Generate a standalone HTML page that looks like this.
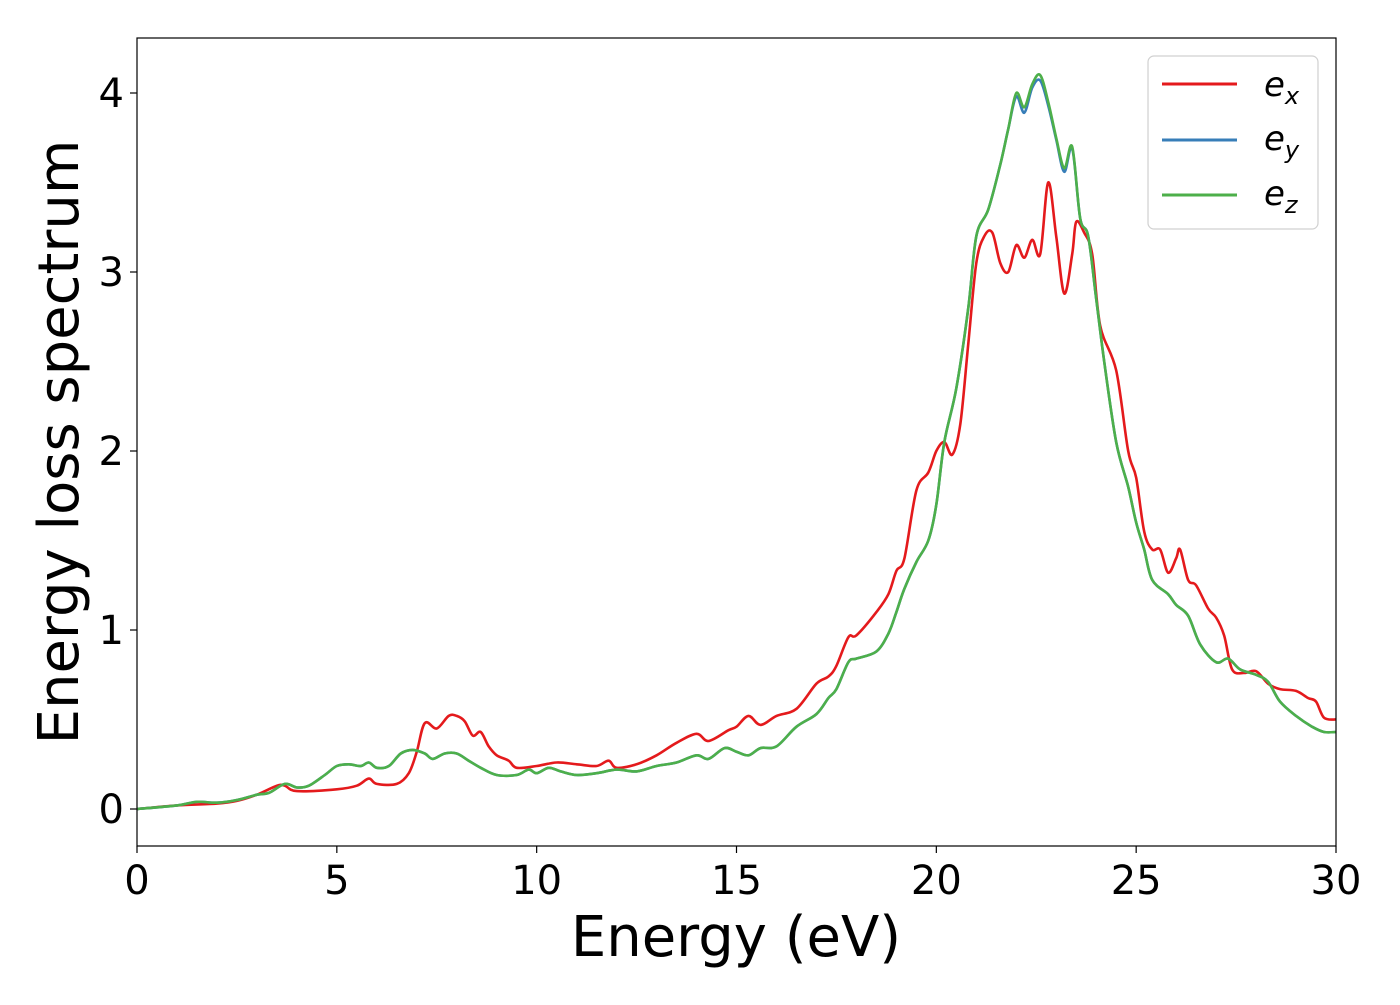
<!DOCTYPE html>
<html><head><meta charset="utf-8"><style>
body{margin:0;background:#fff;}
svg text{font-family:"DejaVu Sans","Liberation Sans",sans-serif;}
</style></head><body>
<svg id="chart" width="1400" height="1000" viewBox="0 0 1400 1000" xmlns="http://www.w3.org/2000/svg">
<rect x="0" y="0" width="1400" height="1000" fill="#fff"/>
<g id="plot"></g>
<rect x="137" y="38" width="1199" height="808" fill="none" stroke="#000" stroke-width="1.2"/>
<g id="ticks"></g>
<text x="736" y="956" font-size="56" text-anchor="middle">Energy (eV)</text>
<text transform="translate(78,442) rotate(-90)" font-size="56" text-anchor="middle">Energy loss spectrum</text>
<g>
<rect x="1148" y="56" width="170" height="173" rx="6" fill="#fff" stroke="#ccc" stroke-width="1.2" opacity="0.9"/>
<line x1="1162" y1="84" x2="1237" y2="84" stroke="#e41a1c" stroke-width="3"/>
<text x="1264" y="96" font-size="34" font-style="italic">e<tspan font-size="24" dy="8">x</tspan></text>
<line x1="1162" y1="140" x2="1237" y2="140" stroke="#377eb8" stroke-width="3"/>
<text x="1264" y="150" font-size="34" font-style="italic">e<tspan font-size="24" dy="8">y</tspan></text>
<line x1="1162" y1="195" x2="1237" y2="195" stroke="#4daf4a" stroke-width="3"/>
<text x="1264" y="205" font-size="34" font-style="italic">e<tspan font-size="24" dy="8">z</tspan></text>
</g>
</svg>
<script>
const xTicks=[0,5,10,15,20,25,30];
const yTicks=[0,1,2,3,4];
const exX=[0,1,2,2.5,3,3.5,3.7,4,5,5.5,5.8,6,6.5,6.8,7,7.2,7.5,7.8,8,8.2,8.4,8.6,8.8,9,9.3,9.5,10,10.5,11,11.5,11.8,12,12.5,13,13.5,14,14.3,14.8,15,15.3,15.6,16,16.5,17,17.3,17.5,17.8,18,18.5,18.8,19,19.2,19.5,19.8,20,20.2,20.4,20.6,20.8,21,21.2,21.4,21.6,21.8,22,22.2,22.4,22.6,22.8,23,23.2,23.4,23.5,23.7,23.9,24.1,24.5,24.8,25,25.2,25.4,25.6,25.8,26,26.1,26.3,26.5,26.8,27,27.2,27.4,27.7,28,28.3,28.6,29,29.3,29.5,29.7,30];
const exY=[0,0.02,0.03,0.045,0.08,0.13,0.13,0.1,0.11,0.13,0.17,0.14,0.14,0.2,0.32,0.48,0.45,0.52,0.52,0.49,0.41,0.43,0.35,0.3,0.27,0.23,0.24,0.26,0.25,0.24,0.27,0.23,0.25,0.3,0.37,0.42,0.38,0.44,0.46,0.52,0.47,0.52,0.56,0.7,0.74,0.8,0.96,0.97,1.1,1.2,1.33,1.4,1.78,1.88,2.0,2.05,1.98,2.15,2.6,3.05,3.2,3.22,3.05,3.0,3.15,3.08,3.18,3.1,3.5,3.2,2.88,3.1,3.28,3.22,3.1,2.7,2.45,2.0,1.85,1.55,1.45,1.45,1.32,1.4,1.45,1.28,1.25,1.12,1.07,0.97,0.78,0.76,0.77,0.7,0.67,0.66,0.62,0.6,0.51,0.5];
const ezX=[0,1,1.5,2,2.5,3,3.3,3.7,4,4.3,4.7,5,5.3,5.6,5.8,6,6.3,6.6,6.9,7.2,7.4,7.7,8,8.3,8.6,9,9.5,9.8,10,10.3,10.6,11,11.5,12,12.5,13,13.5,14,14.3,14.7,15,15.3,15.6,16,16.5,17,17.3,17.5,17.8,18,18.5,18.8,19,19.2,19.5,19.8,20,20.2,20.5,20.8,21,21.3,21.6,21.8,22,22.2,22.4,22.6,22.8,23,23.2,23.4,23.6,23.8,24,24.2,24.5,24.8,25,25.2,25.4,25.8,26,26.3,26.6,27,27.3,27.6,28,28.3,28.6,29,29.4,29.7,30];
const ezY=[0,0.02,0.04,0.035,0.05,0.08,0.09,0.14,0.12,0.13,0.19,0.24,0.25,0.24,0.26,0.23,0.24,0.31,0.33,0.31,0.28,0.31,0.31,0.27,0.23,0.19,0.19,0.22,0.2,0.23,0.21,0.19,0.2,0.22,0.21,0.24,0.26,0.3,0.28,0.34,0.32,0.3,0.34,0.35,0.46,0.53,0.62,0.67,0.82,0.84,0.88,0.98,1.1,1.23,1.38,1.5,1.7,2.05,2.35,2.8,3.2,3.35,3.6,3.8,4.0,3.92,4.05,4.1,3.95,3.75,3.58,3.7,3.3,3.2,2.85,2.5,2.05,1.8,1.6,1.45,1.28,1.2,1.14,1.08,0.92,0.82,0.84,0.78,0.75,0.71,0.6,0.52,0.46,0.43,0.43];
const eyX=ezX;
const eyY=[0,0.02,0.04,0.035,0.05,0.08,0.09,0.14,0.12,0.13,0.19,0.24,0.25,0.24,0.26,0.23,0.24,0.31,0.33,0.31,0.28,0.31,0.31,0.27,0.23,0.19,0.19,0.22,0.2,0.23,0.21,0.19,0.2,0.22,0.21,0.24,0.26,0.3,0.28,0.34,0.32,0.3,0.34,0.35,0.46,0.53,0.62,0.67,0.82,0.84,0.88,0.98,1.1,1.23,1.38,1.5,1.7,2.05,2.35,2.8,3.2,3.35,3.6,3.8,3.98,3.89,4.03,4.07,3.93,3.74,3.56,3.69,3.3,3.2,2.85,2.5,2.05,1.8,1.6,1.45,1.28,1.2,1.14,1.08,0.92,0.82,0.84,0.78,0.75,0.71,0.6,0.52,0.46,0.43,0.43];
const NS='http://www.w3.org/2000/svg';
const X=v=>137+v*(1199/30);
const Y=v=>809-v*179;
function pathD(xs,ys){
  const p=xs.map((x,i)=>[X(x),Y(ys[i])]);
  let d='M'+p[0][0].toFixed(1)+','+p[0][1].toFixed(1);
  for(let i=0;i<p.length-1;i++){
    const p0=p[Math.max(0,i-1)],p1=p[i],p2=p[i+1],p3=p[Math.min(p.length-1,i+2)];
    const c1=[p1[0]+(p2[0]-p0[0])/6,p1[1]+(p2[1]-p0[1])/6];
    const c2=[p2[0]-(p3[0]-p1[0])/6,p2[1]-(p3[1]-p1[1])/6];
    d+='C'+c1[0].toFixed(1)+','+c1[1].toFixed(1)+' '+c2[0].toFixed(1)+','+c2[1].toFixed(1)+' '+p2[0].toFixed(1)+','+p2[1].toFixed(1);
  }
  return d;
}
const plot=document.getElementById('plot');
function addLine(xs,ys,color,name){
  const el=document.createElementNS(NS,'path');
  el.setAttribute('d',pathD(xs,ys));
  el.setAttribute('fill','none');
  el.setAttribute('stroke',color);
  el.setAttribute('stroke-width','2.6');
  
  
  plot.appendChild(el);
}
addLine(exX,exY,'#e41a1c','line-ex');
addLine(eyX,eyY,'#377eb8','line-ey');
addLine(ezX,ezY,'#4daf4a','line-ez');
const tk=document.getElementById('ticks');
xTicks.forEach(v=>{
  const l=document.createElementNS(NS,'line');
  l.setAttribute('x1',X(v));l.setAttribute('x2',X(v));l.setAttribute('y1',846);l.setAttribute('y2',853);
  l.setAttribute('stroke','#000');l.setAttribute('stroke-width','1.2');
  
  
  tk.appendChild(l);
  const t=document.createElementNS(NS,'text');
  t.setAttribute('x',X(v));t.setAttribute('y',894);t.setAttribute('font-size','40');t.setAttribute('text-anchor','middle');
  t.textContent=v;
  
  
  tk.appendChild(t);
});
yTicks.forEach(v=>{
  const l=document.createElementNS(NS,'line');
  l.setAttribute('x1',130);l.setAttribute('x2',137);l.setAttribute('y1',Y(v));l.setAttribute('y2',Y(v));
  l.setAttribute('stroke','#000');l.setAttribute('stroke-width','1.2');
  
  
  tk.appendChild(l);
  const t=document.createElementNS(NS,'text');
  t.setAttribute('x',124);t.setAttribute('y',Y(v)+14);t.setAttribute('font-size','40');t.setAttribute('text-anchor','end');
  t.textContent=v;
  
  
  tk.appendChild(t);
});
</script>
</body></html>
